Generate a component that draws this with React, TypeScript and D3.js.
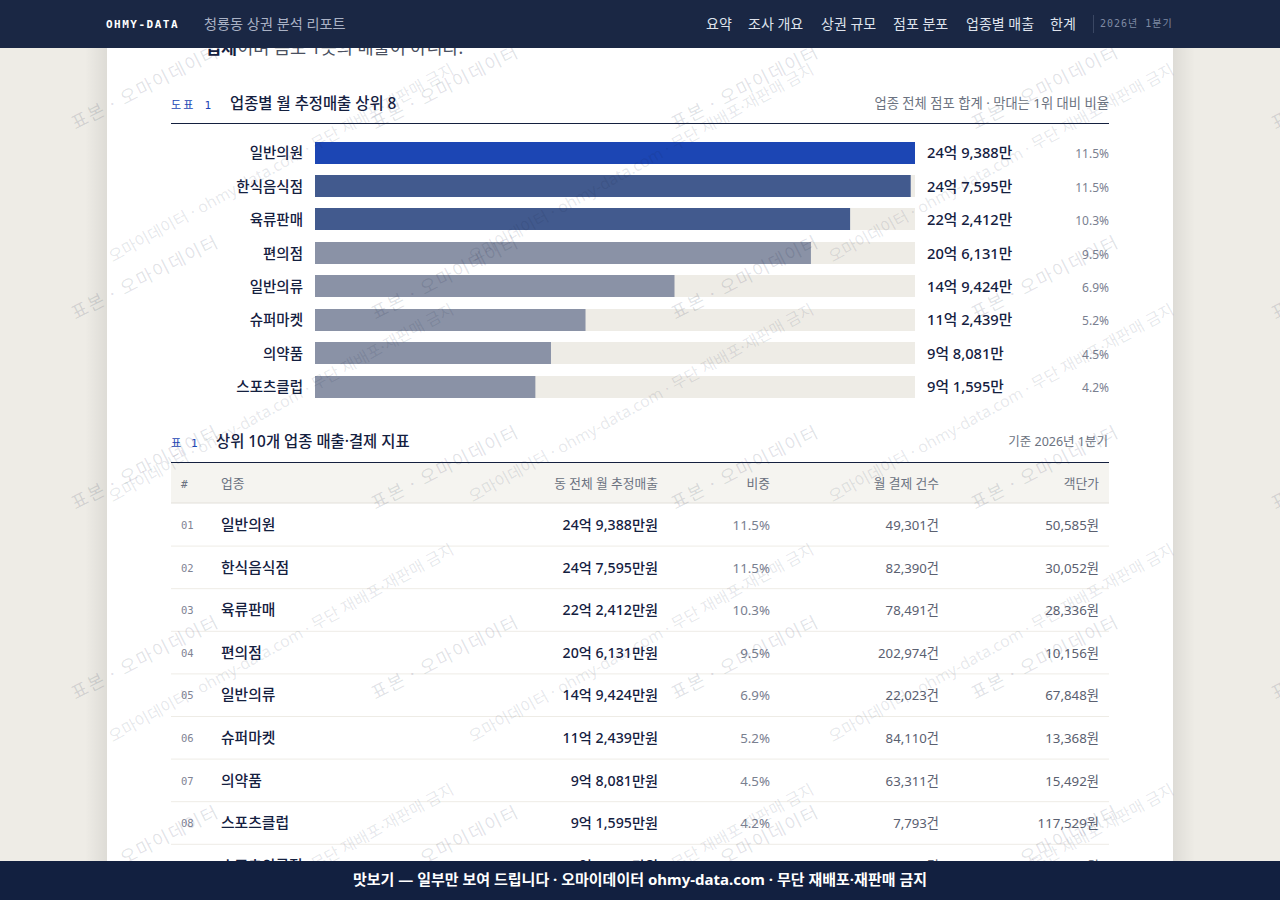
import React from 'react';
import * as d3 from 'd3';

const chartNames = ['일반의원', '한식음식점', '육류판매', '편의점', '일반의류', '슈퍼마켓', '의약품', '스포츠클럽'];
const salesValues = [249388, 247595, 222412, 206131, 149424, 112439, 98081, 91595];
const salesLabels = ['24억 9,388만', '24억 7,595만', '22억 2,412만', '20억 6,131만', '14억 9,424만', '11억 2,439만', '9억 8,081만', '9억 1,595만'];
const shareLabels = ['11.5%', '11.5%', '10.3%', '9.5%', '6.9%', '5.2%', '4.5%', '4.2%'];

const rowNames = [...chartNames, '스포츠의류점'];
const rowSales = ['24억 9,388만원', '24억 7,595만원', '22억 2,412만원', '20억 6,131만원', '14억 9,424만원', '11억 2,439만원', '9억 8,081만원', '9억 1,595만원', '8억 5,000만원'];
const rowShares = [...shareLabels, '3.9%'];
const rowCounts = ['49,301건', '82,390건', '78,491건', '202,974건', '22,023건', '84,110건', '63,311건', '7,793건', '7,000건'];
const rowPrices = ['50,585원', '30,052원', '28,336원', '10,156원', '67,848원', '13,368원', '15,492원', '117,529원', '100,000원'];

const navItems = ['요약', '조사 개요', '상권 규모', '점포 분포', '업종별 매출', '한계'];
const navX = [706, 748, 821, 893, 966, 1050];

const sans = "'Noto Sans', 'Noto Sans CJK KR', sans-serif";
const mono = "'DejaVu Sans Mono', 'Noto Sans CJK KR', monospace";

const App = () => {
  const x = d3.scaleLinear().domain([0, salesValues[0]]).range([0, 600]);
  const y = d3.scaleBand().domain(chartNames).range([142, 398.5]).paddingInner(0.343).paddingOuter(0);

  const colorFor = (i: number) => (i === 0 ? '#1c46b4' : i < 3 ? '#425a8e' : '#8a92a6');

  const rowY = d3.scaleLinear().domain([0, 1]).range([504, 546.6]);

  const markA = d3.cross(d3.range(0, 5), d3.range(0, 5));
  const markB = d3.cross(d3.range(0, 3), d3.range(0, 4));

  return (
    <svg
      width={1280}
      height={900}
      viewBox="0 0 1280 900"
      style={{ position: 'fixed', left: 0, top: 0, fontFamily: sans }}
    >
      <defs>
        <linearGradient id="shadeL" x1="0" x2="1" y1="0" y2="0">
          <stop offset="0" stopColor="#000" stopOpacity="0" />
          <stop offset="1" stopColor="#000" stopOpacity="0.07" />
        </linearGradient>
        <linearGradient id="shadeR" x1="0" x2="1" y1="0" y2="0">
          <stop offset="0" stopColor="#000" stopOpacity="0.07" />
          <stop offset="1" stopColor="#000" stopOpacity="0" />
        </linearGradient>
      </defs>
      <rect width={1280} height={900} fill="#eeece6" />
      <rect x={85} width={22} height={900} fill="url(#shadeL)" />
      <rect x={1173} width={22} height={900} fill="url(#shadeR)" />
      <rect x={107} width={1066} height={900} fill="#fff" />

      {/* clipped intro line */}
      <text x={205} y={54} fontSize={17.5} fill="#4a5060">
        <tspan fontWeight={700} fill="#14203f">업체</tspan>이며 음모 1곳의 매출이 아니다.
      </text>

      {/* figure heading */}
      <text x={171} y={109} fontSize={11} fontFamily={mono} letterSpacing={2.2} fill="#1c46b4">도표 1</text>
      <text x={230} y={109} fontSize={15.4} fontWeight={500} fill="#14203f">업종별 월 추정매출 상위 8</text>
      <text x={1109} y={108} fontSize={13.3} textAnchor="end" fill="#6b7280">업종 전체 점포 합계 · 막대는 1위 대비 비율</text>
      <line x1={171} x2={1109} y1={123.5} y2={123.5} stroke="#14203f" />

      {chartNames.map((name, i) => {
        const top = Math.floor(y(name) as number);
        const mid = (y(name) as number) + y.bandwidth() / 2;
        return (
          <g key={name}>
            <text x={303} y={mid + 5} fontSize={14.5} fontWeight={500} textAnchor="end" fill="#14203f">{name}</text>
            <rect x={315} y={top} width={x(salesValues[0])} height={22} fill="#eeece6" />
            <rect x={315} y={top} width={x(salesValues[i])} height={22} fill={colorFor(i)} />
            <text x={927} y={mid + 5} fontSize={14.7} fontWeight={500} fill="#14203f">{salesLabels[i]}</text>
            <text x={1109} y={mid + 5} fontSize={12} textAnchor="end" fill="#7a8090">{shareLabels[i]}</text>
          </g>
        );
      })}

      {/* table heading */}
      <text x={171} y={447} fontSize={11} fontFamily={mono} letterSpacing={1.6} fill="#1c46b4">표 1</text>
      <text x={216} y={447} fontSize={15.4} fontWeight={500} fill="#14203f">상위 10개 업종 매출·결제 지표</text>
      <text x={1108} y={446} fontSize={12.5} textAnchor="end" fill="#6b7280">기준 2026년 1분기</text>

      <rect x={171} y={463} width={938} height={40} fill="#f5f4f0" />
      <line x1={171} x2={1109} y1={462.5} y2={462.5} stroke="#14203f" />
      <line x1={171} x2={1109} y1={503} y2={503} stroke="#e2e0da" />
      <g fontSize={12.75} fill="#6b7280">
        <text x={181} y={488} fontFamily={mono} fontSize={11}>#</text>
        <text x={221} y={488}>업종</text>
        <text x={658} y={488} textAnchor="end">동 전체 월 추정매출</text>
        <text x={770} y={488} textAnchor="end">비중</text>
        <text x={939} y={488} textAnchor="end">월 결제 건수</text>
        <text x={1099} y={488} textAnchor="end">객단가</text>
      </g>

      {rowNames.map((name, i) => {
        const base = rowY(i) + 26;
        return (
          <g key={name}>
            <text x={181} y={base - 1} fontSize={10.5} fontFamily={mono} fill="#7f8494">{String(i + 1).padStart(2, '0')}</text>
            <text x={221} y={base} fontSize={14.8} fontWeight={500} fill="#14203f">{name}</text>
            <text x={658} y={base} fontSize={14.2} fontWeight={500} textAnchor="end" fill="#14203f">{rowSales[i]}</text>
            <text x={770} y={base} fontSize={13.3} textAnchor="end" fill="#7a8090">{rowShares[i]}</text>
            <text x={939} y={base} fontSize={13.2} textAnchor="end" fill="#5a6070">{rowCounts[i]}</text>
            <text x={1099} y={base} fontSize={13.3} textAnchor="end" fill="#5a6070">{rowPrices[i]}</text>
            <line x1={171} x2={1109} y1={rowY(i + 1) - 0.5} y2={rowY(i + 1) - 0.5} stroke="#eeece6" />
          </g>
        );
      })}

      {/* watermark tiles */}
      <g fill="#14203f" fillOpacity={0.13} pointerEvents="none">
        {markA.map(([c, r]) => (
          <text
            key={`a${c}-${r}`}
            transform={`translate(${148 + c * 300},${93 + r * 190}) rotate(-27)`}
            textAnchor="middle"
            fontSize={18}
            letterSpacing={1.5}
          >
            표본 · 오마이데이터
          </text>
        ))}
      </g>
      <g fill="#14203f" fillOpacity={0.11} pointerEvents="none">
        {markB.map(([c, r]) => (
          <text
            key={`b${c}-${r}`}
            transform={`translate(${284 + c * 360},${168 + r * 240}) rotate(-29)`}
            textAnchor="middle"
            fontSize={16}
          >
            오마이데이터 · ohmy-data.com · 무단 재배포·재판매 금지
          </text>
        ))}
      </g>

      {/* top bar */}
      <rect width={1280} height={48} fill="#1a2744" />
      <text x={106} y={28} fontSize={11} fontWeight={700} fontFamily={mono} letterSpacing={1.5} fill="#fff">OHMY-DATA</text>
      <text x={204} y={29} fontSize={14.2} fill="#aab2c5">청룡동 상권 분석 리포트</text>
      {navItems.map((item, i) => (
        <text key={item} x={navX[i]} y={29} fontSize={14} fill="#dfe3ec">{item}</text>
      ))}
      <line x1={1093.5} x2={1093.5} y1={15} y2={33} stroke="#3a4763" />
      <svg x={1100} y={0} width={73} height={48}>
        <text x={0} y={27} fontSize={10} fontFamily={mono} letterSpacing={1} fill="#7f8aa3">2026년 1분기</text>
      </svg>

      {/* footer */}
      <rect y={861} width={1280} height={39} fill="#122040" />
      <text x={640} y={885} fontSize={15} fontWeight={700} textAnchor="middle" fill="#fff">
        맛보기 — 일부만 보여 드립니다 · 오마이데이터 ohmy-data.com · 무단 재배포·재판매 금지
      </text>
    </svg>
  );
};

export default App;
